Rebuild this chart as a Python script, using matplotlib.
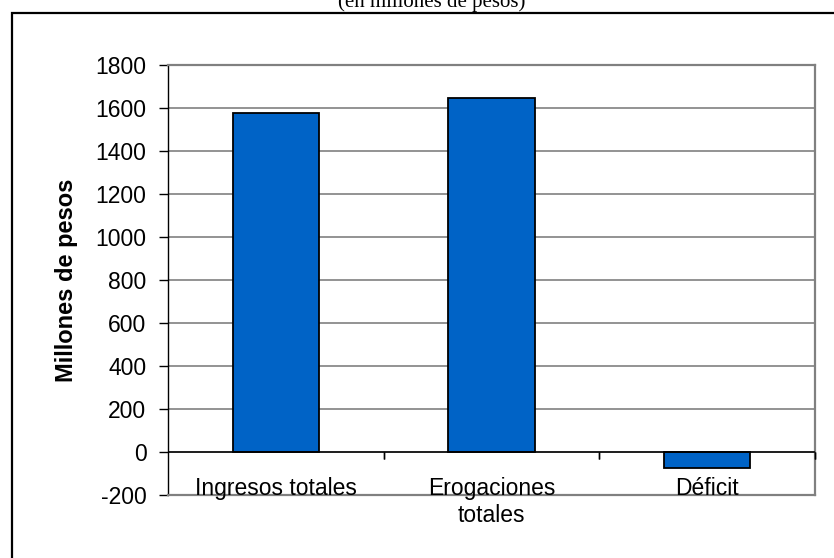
import matplotlib.pyplot as plt
from matplotlib.patches import Rectangle

# Resultado fiscal (en millones de pesos)
categorias = ["Ingresos totales", "Erogaciones\ntotales", "Déficit"]
valores = [1575, 1645, -75]
yticks = [-200, 0, 200, 400, 600, 800, 1000, 1200, 1400, 1600, 1800]

plt.rcParams["font.family"] = ["Liberation Sans", "DejaVu Sans"]

fig = plt.figure(figsize=(8.34, 5.58), dpi=100)
ax = fig.add_axes([168 / 834, 1 - 495 / 558, 647 / 834, 430 / 558])

# marco exterior del grafico (se corta a la derecha y abajo)
fig.patches.append(Rectangle((12 / 834, -0.1), 1.2, 1 - 13 / 558 + 0.1,
                             transform=fig.transFigure, fill=False,
                             edgecolor="black", linewidth=1.6))

fig.text(432 / 834, 1 - 7 / 558, "(en millones de pesos)", ha="center", va="baseline",
         fontsize=15, family=["Liberation Serif", "DejaVu Serif"])

x = range(len(categorias))
ax.bar(x, valores, width=0.4, color="#0063C6", edgecolor="black", linewidth=1.3, zorder=3)

ax.set_xlim(-0.5, 2.5)
ax.set_ylim(-200, 1800)
ax.set_yticks(yticks)
ax.set_yticklabels([str(v) for v in yticks], fontsize=16.5)
ax.yaxis.grid(True, color="#808080", linewidth=1.2, zorder=0)
ax.tick_params(axis="y", length=6.5, width=1, pad=9, direction="out")

# eje de categorias sobre el cero
ax.set_xticks([])
ax.axhline(0, color="black", linewidth=1.1, zorder=4)
for b in [0.5, 1.5, 2.5]:
    ax.plot([b, b], [0, 0], marker=3, markersize=5, color="black",
            markeredgewidth=1, zorder=4, clip_on=False)
for i, cat in enumerate(categorias):
    ax.annotate(cat, xy=(i, 0), xytext=(0, -18), textcoords="offset points",
                ha="center", va="top", fontsize=16.5, linespacing=1.25, zorder=5)

for s in ["top", "right", "bottom"]:
    ax.spines[s].set_color("#808080")
    ax.spines[s].set_linewidth(1.6)
ax.spines["left"].set_color("black")
ax.spines["left"].set_linewidth(1)

ax.set_ylabel("Millones de pesos", fontsize=17, fontweight="bold")
ax.yaxis.set_label_coords(-0.139, 0.5)

fig.savefig("out.png", dpi=100)
